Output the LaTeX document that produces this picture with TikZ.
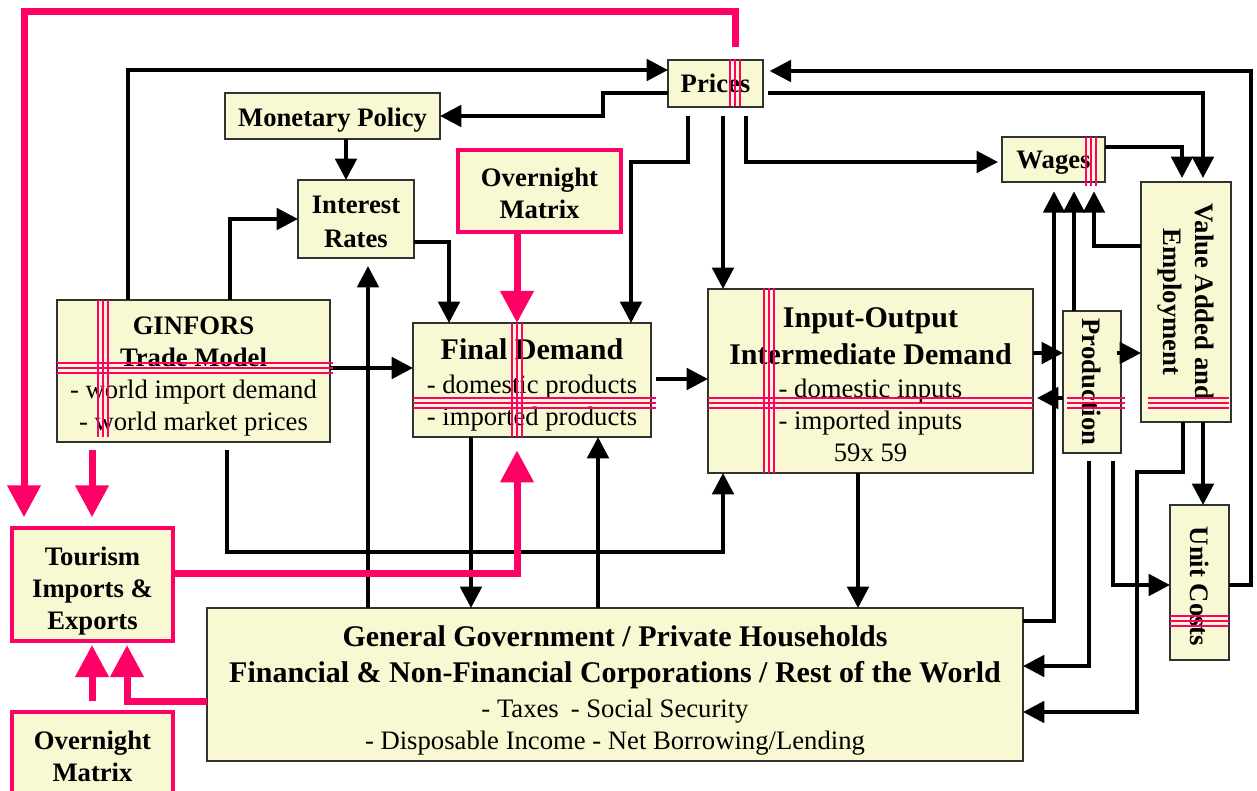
\documentclass[tikz,border=0pt]{standalone}
\usepackage{fontspec}
\setmainfont{Liberation Serif}
\usetikzlibrary{arrows.meta}
\definecolor{boxfill}{RGB}{248,248,210}
\definecolor{boxline}{RGB}{50,50,50}
\definecolor{hot}{RGB}{255,0,102}
\newcommand\ttl{\fontsize{22.5}{27}\selectfont\bfseries}
\newcommand\tst[1]{\rule{0pt}{#1pt}}
\newcommand\guideh[3]{%
  \draw[gthick] (#2,#1) -- (#3,#1);
  \draw[gthin] (#2,{#1-5}) -- (#3,{#1-5});
  \draw[gthin] (#2,{#1+5}) -- (#3,{#1+5});}
\newcommand\guidev[3]{%
  \draw[gthick] (#1,#2) -- (#1,#3);
  \draw[gthin] ({#1-5},#2) -- ({#1-5},#3);
  \draw[gthin] ({#1+5},#2) -- ({#1+5},#3);}
\begin{document}
\begin{tikzpicture}[x=0.75pt,y=-0.75pt,
  box/.style={inner sep=0pt,outer sep=0pt,draw=boxline,fill=boxfill,line width=1.1pt,align=center,font=\fontsize{20}{24}\selectfont},
  bbox/.style={box,font=\fontsize{20}{24}\selectfont\bfseries},
  pbox/.style={bbox,draw=hot,line width=3pt},
  sz/.style 2 args={minimum width=#1*0.75pt,minimum height=#2*0.75pt},
  lbl/.style={inner sep=0pt,align=center,font=\fontsize{20}{24}\selectfont\bfseries},
  arr/.style={line width=3pt,-{Triangle[length=16pt,width=16pt]}},
  parr/.style={draw=hot,line width=5.25pt,-{Triangle[length=24pt,width=24pt]}},
  gthick/.style={draw=hot,line width=2.2pt},
  gthin/.style={draw=hot,line width=0.8pt},
]
\clip (0,0) rectangle (1257,791);
\fill[white] (0,0) rectangle (1257,791);

% ---- boxes ----
\node[bbox,sz={95}{47}] (prices) at (715.5,83.5) {Prices};
\node[bbox,sz={215}{46}] (mp) at (332.5,116) {\tst{19.7}Monetary Policy};
\node[bbox,sz={116}{78}] (ir) at (356,219) {\tst{17.5}Interest\\[1pt]Rates};
\node[pbox,sz={163}{82}] (omtop) at (539.5,191) {\tst{17}Overnight\\Matrix};
\node[bbox,sz={103}{45}] (wages) at (1053.5,159.5) {\tst{18}Wages};
\node[box,sz={273}{142}] (ginfors) at (193.5,371) {\tst{21}\textbf{GINFORS}\\\textbf{Trade Model}\\- world import demand\\- world market prices};
\node[box,sz={238}{114}] (fd) at (532,380) {{\ttl\tst{23}Final Demand}\\[1.5pt]- domestic products\\- imported products};
\node[box,sz={325}{184}] (io) at (870.5,381) {{\ttl\tst{20.7}Input-Output}\\[3.75pt]{\ttl Intermediate Demand}\\[1pt]- domestic inputs\\- imported inputs\\59x 59};
\node[box,sz={58}{142}] (prod) at (1092,382) {};
\node[box,sz={90}{240}] (va) at (1186,302) {};
\node[box,sz={59}{155}] (uc) at (1199.5,582.5) {};
\node[pbox,sz={161}{113}] (tour) at (92.5,584.5) {\tst{23.8}Tourism\\Imports \&\\Exports};
\node[box,sz={816}{153}] (gg) at (615,684.5) {{\ttl\tst{24.4}General Government / Private Households}\\[3pt]{\ttl Financial \& Non-Financial Corporations / Rest of the World}\\[2.25pt]- Taxes\hspace{0.45em}- Social Security\\- Disposable Income - Net Borrowing/Lending};
\node[pbox,sz={161}{85}] (ombot) at (92.5,754.5) {\tst{17}Overnight\\Matrix};

\node[lbl,rotate=-90] (prodt) at (prod.center) {Production};
\node[lbl,rotate=-90] (vat) at (va.center) {Value Added and\\Employment};
\node[lbl,rotate=-90] (uct) at ([yshift=-3pt]uc.center) {Unit Costs};

% ---- black connectors ----
\draw[arr] (ginfors.north -| 128,0) -- (128,70) -- (prices.west |- 0,70);
\draw[arr] (ginfors.north -| 230,0) -- (230,219) -- (ir.west |- 0,219);
\draw[arr] (mp.south -| 346,0) -- (ir.north -| 346,0);
\draw[arr] (prices.west |- 0,93) -- (603,93) -- (603,116) -- (mp.east |- 0,116);
\draw[arr] (ir.east |- 0,242) -- (449,242) -- (fd.north -| 449,0);
\draw[arr,shorten <=7pt] (prices.south -| 688,0) -- (688,162) -- (631,162) -- (fd.north -| 631,0);
\draw[arr,shorten <=7pt] (prices.south -| 723,0) -- (io.north -| 723,0);
\draw[arr,shorten <=7pt,shorten >=3pt] (prices.south -| 746,0) -- (746,162) -- (wages.west |- 0,162);
\draw[arr,shorten <=4pt,shorten >=3pt] (prices.east |- 0,93) -- (1203,93) -- (va.north -| 1203,0);
\draw[arr,shorten >=3pt] (wages.east |- 0,147) -- (1182,147) -- (va.north -| 1182,0);
\draw[arr,shorten >=5pt] (uc.east |- 0,585) -- (1251,585) -- (1251,71) -- (prices.east |- 0,71);
\draw[arr,shorten >=7pt] (gg.east |- 0,621) -- (1054,621) -- (wages.south -| 1054,0);
\draw[arr,shorten >=7pt] (prod.north -| 1074,0) -- (wages.south -| 1074,0);
\draw[arr,shorten >=7pt] (va.west |- 0,246) -- (1094,246) -- (wages.south -| 1094,0);
\draw[arr] (io.east |- 0,353) -- (prod.west |- 0,353);
\draw[arr,shorten >=3pt] (prod.west |- 0,398) -- (io.east |- 0,398);
\draw[arr,shorten <=3pt] (prod.east |- 0,353) -- (va.west |- 0,353);
\draw[arr,shorten <=6pt] (prod.south -| 1089,0) -- (1089,666) -- (gg.east |- 0,666);
\draw[arr,shorten <=6pt] (prod.south -| 1113,0) -- (1113,585) -- (uc.west |- 0,585);
\draw[arr] (va.south -| 1183,0) -- (1183,472) -- (1137,472) -- (1137,712) -- (gg.east |- 0,712);
\draw[arr] (va.south -| 1203,0) -- (uc.north -| 1203,0);
\draw[arr] (ginfors.east |- 0,368) -- (fd.west |- 0,368);
\draw[arr,shorten <=6pt] (ginfors.south -| 227,0) -- (227,552) -- (723,552) -- (io.south -| 723,0);
\draw[arr,shorten <=4pt] (fd.east |- 0,379) -- (io.west |- 0,379);
\draw[arr] (fd.south -| 471,0) -- (gg.north -| 471,0);
\draw[arr] (gg.north -| 598,0) -- (fd.south -| 598,0);
\draw[arr] (io.south -| 858,0) -- (gg.north -| 858,0);
\draw[arr,shorten >=6pt] (gg.north -| 368,0) -- (ir.south -| 368,0);

% ---- pink connectors ----
\draw[parr] (omtop.south -| 517,0) -- (fd.north -| 517,0);
\draw[parr,shorten >=10pt] (tour.east |- 0,573) -- (517,573) -- (fd.south -| 517,0);
\draw[parr,shorten >=3pt] (gg.west |- 0,701) -- (127,701) -- (tour.south -| 127,0);
\draw[parr,shorten <=8pt,shorten >=3pt] (ombot.north -| 92,0) -- (tour.south -| 92,0);
\draw[parr,shorten <=6pt,shorten >=8pt] (ginfors.south -| 92,0) -- (tour.north -| 92,0);
\draw[parr,shorten <=10pt,shorten >=8pt] (prices.north -| 735,0) -- (735,12) -- (24,12) -- (tour.north -| 24,0);

% ---- pink guide marks ----
\guidev{735}{59}{106}
\guidev{1091}{137}{186}
\guideh{368}{57}{333}
\guidev{103}{300}{437}
\guideh{403}{413}{656}
\guidev{517}{323}{437}
\guideh{403}{708}{1033}
\guidev{769}{288}{473}
\guideh{403}{1067}{1125}
\guideh{403}{1148}{1229}
\guideh{621}{1170}{1229}
\end{tikzpicture}
\end{document}
